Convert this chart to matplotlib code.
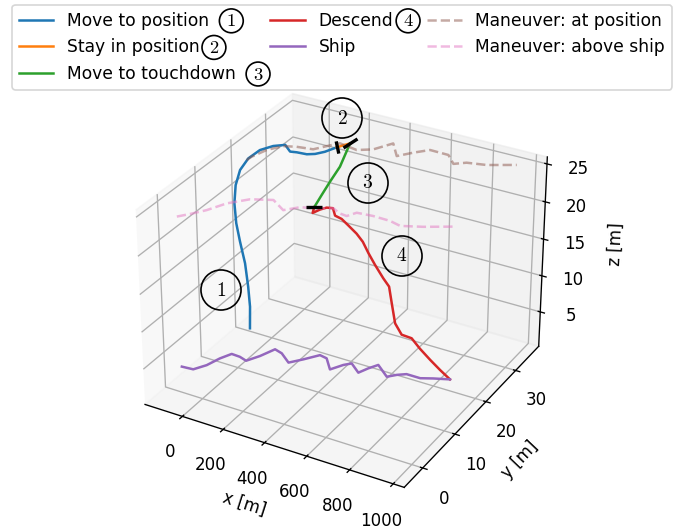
import numpy as np
import matplotlib
matplotlib.use('Agg')
import matplotlib.pyplot as plt

# trajectory data (x, y, z in metres)
ship_z = 1.3         # deck height
at_position_z = 24.8  # altitude of the "at position" manoeuvre
above_ship_z = 21.7   # altitude of the "above ship" manoeuvre

ship_x = [-177, -123, -91, -71, -46, -3, 37, 69, 97, 139, 203, 245, 290, 328, 385, 417, 442, 503, 523, 547,
          624, 654, 687, 753, 802, 867]
ship_y = [4.1, 4.3, 6.3, 8.9, 10.9, 10.8, 10.3, 12.5, 15.3, 14.8, 13.0, 14.9, 17.2, 16.9, 14.4, 16.5, 17.5,
          15.7, 17.5, 19.1, 16.8, 18.0, 18.9, 18.9, 19.8, 20.8]

at_pos_x = [-69, -67, -44, -2, 51, 124, 159, 195, 288, 346, 393, 462, 508, 558, 647, 703, 746, 829, 938]
at_pos_y = [17.7, 19.0, 22.0, 24.3, 25.1, 25.6, 27.5, 29.3, 28.6, 30.0, 33.2, 29.8, 32.0, 34.0, 33.9, 31.7,
            33.0, 33.8, 36.0]

above_x = [-169, -134, -92, -51, 15, 103, 184, 232, 297, 357, 402, 438, 460, 533, 614, 670, 756, 863]
above_y = [3.9, 5.5, 7.7, 10.9, 13.7, 15.2, 13.2, 15.2, 16.1, 17.3, 16.4, 16.2, 17.8, 18.1, 18.0, 17.4, 18.8, 21.0]

move_x = [-89, -95, -104, -119, -142, -159, -164, -159, -142, -112, -76, -39, 0, 39, 63, 106, 135, 168, 202]
move_y = [18.7, 19.2, 19.3, 19.4, 19.4, 19.4, 19.3, 19.5, 19.9, 20.6, 21.9, 23.6, 24.8, 23.9, 24.4, 24.8,
          25.5, 26.4, 27.9]
move_z = [1.3, 4.1, 6.8, 9.9, 12.7, 15.1, 17.8, 20.2, 22.2, 23.7, 24.6, 24.8, 24.8, 24.5, 24.4, 24.3, 24.3,
          24.5, 24.8]

stay_x = [202, 216, 233]
stay_y = [27.9, 28.9, 30.0]

touch_x = [233, 240, 247, 263, 283]
touch_y = [30.0, 26.5, 23.1, 19.6, 16.2]
touch_z = [24.8, 23.0, 22.3, 21.9, 21.7]

descend_x = [283, 272, 304, 333, 358, 365, 393, 421, 458, 483, 507, 535, 572, 597, 606, 620, 649, 694, 731,
             777, 822, 867]
descend_y = [16.2, 16.4, 16.6, 16.8, 17.1, 17.3, 17.5, 17.7, 17.9, 18.2, 18.4, 18.6, 18.8, 19.0, 19.3, 19.5,
             19.7, 19.9, 20.1, 20.4, 20.6, 20.8]
descend_z = [21.7, 20.8, 21.4, 21.8, 21.8, 20.8, 20.5, 19.8, 18.9, 17.9, 16.5, 15.1, 13.5, 12.5, 10.2, 7.5,
             6.1, 5.9, 4.7, 3.4, 2.3, 1.3]

W, H, DPI = 683, 531, 120
fig = plt.figure(figsize=(W / DPI, H / DPI), dpi=DPI)
ax = fig.add_subplot(projection='3d', computed_zorder=False)
ax.set_position([0.1611, 0.0271, 0.6717, 0.8639])
ax.view_init(30, -60.5)

h1, = ax.plot(move_x, move_y, move_z, color='C0', label='Move to position')
h2, = ax.plot(stay_x, stay_y, [at_position_z] * len(stay_x), color='C1', label='Stay in position')
h3, = ax.plot(touch_x, touch_y, touch_z, color='C2', label='Move to touchdown')
h4, = ax.plot(descend_x, descend_y, descend_z, color='C3', label='Descend')
h5, = ax.plot(ship_x, ship_y, [ship_z] * len(ship_x), color='C4', label='Ship')
h6, = ax.plot(at_pos_x, at_pos_y, [at_position_z] * len(at_pos_x), '--', color='C5', alpha=0.5,
              label='Maneuver: at position')
h7, = ax.plot(above_x, above_y, [above_ship_z] * len(above_x), '--', color='C6', alpha=0.5,
              label='Maneuver: above ship')

# black ticks where the phases switch
switches = [(stay_x[0], stay_y[0], at_position_z, 12, 7.5),
            (stay_x[-1], stay_y[-1], at_position_z, -57, 10),
            (descend_x[0], descend_y[0], descend_z[0], 90, 10)]
for x, y, z, ang, ms in switches:
    ax.plot([x], [y], [z], ls='none', marker=(2, 0, ang), ms=ms, mew=2, color='k')

ax.set_xlim(-186.09, 1050.01)
ax.set_ylim(-5.54, 38.05)
ax.set_zlim(0.15, 25.91)
ax.set_yticks([0, 10, 20, 30])
ax.set_xlabel('x [m]')
ax.set_ylabel('y [m]')
ax.set_zlabel('z [m]', labelpad=6)

leg = fig.legend(handles=[h1, h2, h3, h4, h5, h6, h7], loc='upper center', ncol=3,
                 bbox_to_anchor=(0.501, 1.0068), fontsize=10.3)

# circled phase numbers next to the legend labels
fig.canvas.draw()
for i, off in ((0, 22), (1, 14), (2, 22), (3, 15)):
    bb = leg.get_texts()[i].get_window_extent()
    fig.text((bb.x1 + off) / W, (bb.y0 + bb.y1) / 2 / H, r'$%d$' % (i + 1), fontsize=11.2,
             math_fontfamily='cm', ha='center', va='center', zorder=10,
             bbox=dict(boxstyle='circle,pad=0.13', fc='none', ec='k', lw=1.0))

# circled phase numbers in the plot
for i, (u, v) in enumerate([(221, 290), (342, 118), (368, 183), (402, 256)]):
    fig.text(u / W, 1 - v / H, r'$%d$' % (i + 1), fontsize=11.7, math_fontfamily='cm',
             ha='center', va='center', zorder=10,
             bbox=dict(boxstyle='circle,pad=0.54', fc='none', ec='k', lw=1.0))

fig.savefig('out.png', dpi=DPI)
